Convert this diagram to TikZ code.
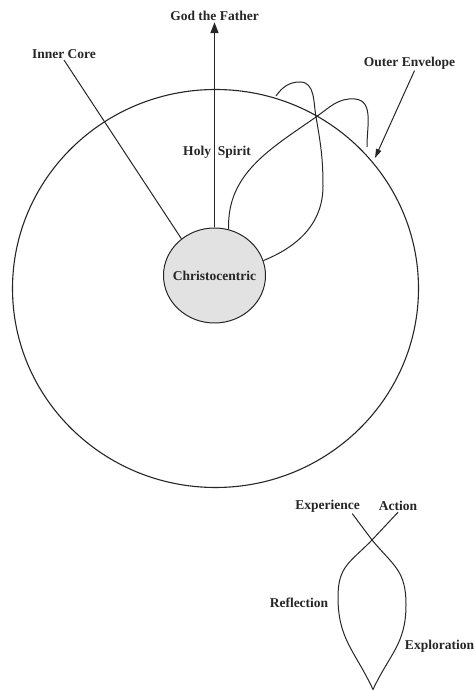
\documentclass[tikz,border=0pt]{standalone}
\usepackage{fontspec}
\setmainfont{Liberation Serif}
\usepackage{tikz}
\usetikzlibrary{arrows.meta,positioning,shapes.geometric}
\usepackage{xcolor}
\definecolor{InkGray}{HTML}{262626}
\definecolor{CoreFill}{HTML}{E2E2E2}

\begin{document}
\begin{tikzpicture}[x=1pt, y=1pt, InkGray, line width=1pt,
    every node/.style={font=\fontsize{13.5}{15}\selectfont\bfseries, inner sep=1pt},
    loopline/.style={line width=1pt, line join=round}]
  \useasboundingbox (0,0) rectangle (476,691);

  \node[ellipse, draw, line width=1.1pt, minimum width=406pt, minimum height=398pt]
        (envelope) at (215.5,402.5) {};
  \node[ellipse, draw, fill=CoreFill, minimum width=102pt, minimum height=95pt,
        inner xsep=-7pt, inner ysep=0pt] (core) at (214.5,415.5) {Christocentric};

  \node (god) at (214.5,675) {God the Father};
  \node (inner) at (64,637) {Inner Core};
  \node (envlbl) at (409.5,628) {Outer Envelope};
  \node (spirit) at (217,539) {Holy\enspace Spirit};
  \coordinate (envtip) at (375,533);
  \coordinate (cross) at (316,574);

  \draw[-{Triangle[length=11pt,width=8pt]}, line width=1.8pt] (core.north) -- (god.south);
  \draw (inner.south) -- (core.132);
  \draw[-{Triangle[length=9pt,width=5.5pt]}] ([xshift=5pt]envlbl.south) -- (envtip);

  \draw[loopline] (276,595) to[out=55,in=180] (300,609) to[out=0,in=100] (cross)
    to[out=-80,in=90] (323,505) to[out=-90,in=22] (core.17);
  \draw[loopline] (367,544) to[out=91,in=-5] (355,592) to[out=175,in=35] (cross)
    to[out=215,in=92] (core.73);

  \node (exp) at (327.5,185) {Experience};
  \node (act) at (398,185) {Action};
  \node (refl) at (299,88) {Reflection};
  \node (expl) at (439.5,45) {Exploration};
  \coordinate (xcross) at (372,151);
  \coordinate (tip) at (373,1.5);

  \draw[loopline] ([xshift=-9pt]exp.south east) -- (xcross)
    to[out=-50,in=90,looseness=1.2] (406,86) to[out=-90,in=65,looseness=1.1] (tip)
    to[out=115,in=-90,looseness=1.1] (338,94) to[out=90,in=226,looseness=1.2] (xcross)
    -- (act.south);
\end{tikzpicture}
\end{document}
